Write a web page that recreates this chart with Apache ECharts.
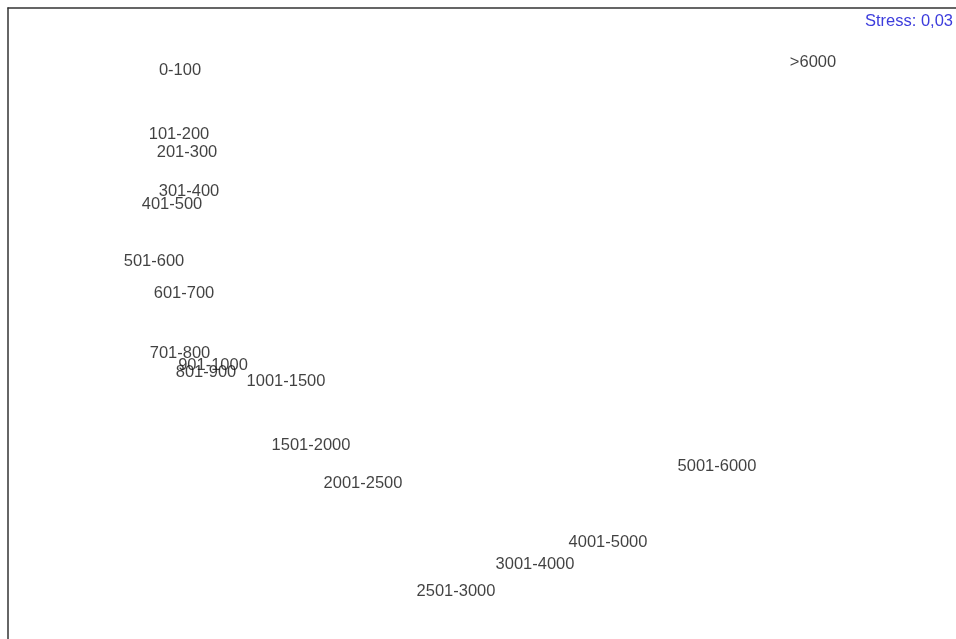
<!DOCTYPE html>
<html>
<head>
<meta charset="utf-8">
<script src="https://cdn.jsdelivr.net/npm/echarts@6/dist/echarts.min.js"></script>
<style>
html,body{margin:0;padding:0;background:#fff;}
#chart{width:956px;height:639px;}
</style>
</head>
<body>
<div id="chart"></div>
<script>
// Income-class categories (MDS configuration)
const categories = ['0-100','101-200','201-300','301-400','401-500','501-600','601-700','701-800','801-900','901-1000','1001-1500','1501-2000','2001-2500','2501-3000','3001-4000','4001-5000','5001-6000','>6000'];
// Dimension 1 coordinates
const dim1 = [-1.54,-1.545,-1.505,-1.495,-1.58,-1.67,-1.52,-1.54,-1.41,-1.375,-1.01,-0.885,-0.625,-0.16,0.235,0.6,1.145,1.625];
// Dimension 2 coordinates
const dim2 = [1.295,0.975,0.885,0.69,0.625,0.34,0.18,-0.12,-0.215,-0.18,-0.26,-0.58,-0.77,-1.31,-1.175,-1.065,-0.685,1.335];
const stressText = 'Stress: 0,03';

const data = categories.map((c,i)=>({name:c, value:[dim1[i], dim2[i]]}));

const chart = echarts.init(document.getElementById('chart'));
const axisCommon = {
  type:'value',
  axisLine:{show:true, onZero:false, lineStyle:{color:'#333', width:1.5}},
  axisTick:{show:false},
  axisLabel:{show:false},
  splitLine:{show:false}
};
chart.setOption({
  animation:false,
  backgroundColor:'#fff',
  grid:{left:8, top:8, right:0, bottom:0, show:false},
  xAxis:Object.assign({}, axisCommon, {position:'top', min:-2.4, max:2.34}),
  yAxis:Object.assign({}, axisCommon, {position:'left', min:-1.555, max:1.6}),
  series:[{
    type:'scatter',
    data:data,
    symbolSize:0,
    silent:true,
    label:{
      show:true,
      position:[0,1],
      align:'center',
      verticalAlign:'middle',
      formatter:p=>p.name,
      color:'#111',
      textBorderWidth:0,
      fontFamily:'Liberation Sans, Arial, sans-serif',
      fontSize:16.5
    }
  }],
  graphic:[{
    type:'text',
    right:3,
    top:13,
    style:{text:stressText, fill:'#3c3cdc', font:'16.5px "Liberation Sans", Arial, sans-serif'}
  }]
});
</script>
</body>
</html>
